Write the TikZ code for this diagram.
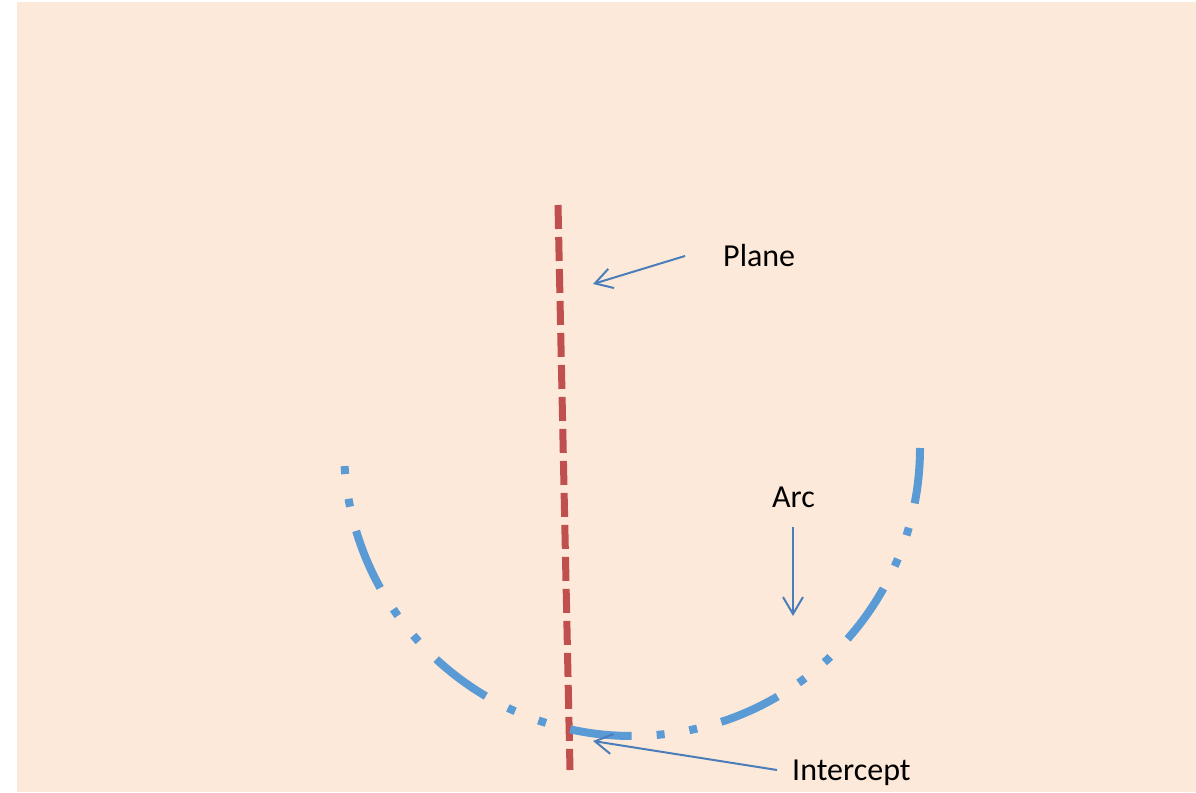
\documentclass[tikz,border=0pt]{standalone}
\usepackage{fontspec}
\setmainfont{Carlito}
\usetikzlibrary{arrows.meta}
\definecolor{peach}{HTML}{FDE9D9}
\definecolor{planered}{HTML}{C0504D}
\definecolor{arcblue}{HTML}{5B9BD5}
\definecolor{arrowblue}{HTML}{4A7EBB}
\tikzset{
  lbl/.style={font=\fontsize{32}{38}\selectfont, text=black, inner sep=0pt, anchor=base west},
  pointer/.style={draw=arrowblue, line width=2pt, -{Straight Barb[length=17pt,width=20pt,line width=2pt]}},
  planeline/.style={draw=planered, line width=7pt, dash pattern=on 24pt off 8pt},
  arcline/.style={draw=arcblue, line width=8pt, dash pattern=on 8pt off 25pt on 8pt off 25pt on 62pt off 25pt}
}
\begin{document}
\begin{tikzpicture}[x=1pt,y=1pt]
\useasboundingbox (0,0) rectangle (1196,792);
\fill[white] (0,0) rectangle (1196,792);
\fill[peach] (17,0) rectangle (1196,790);
% plane
\coordinate (ptop) at (558,587);
\coordinate (pbot) at (570,22);
\draw[planeline] (ptop) -- (pbot);
% arc
\coordinate (c) at (632,344);
\draw[arcline] (c) ++(183.6:288) arc[start angle=183.6,end angle=360,radius=288];
% labels
\node[lbl] (plane) at (723,525) {Plane};
\node[lbl] (arc) at (772,284) {Arc};
\node[lbl] (intercept) at (792,12) {Intercept};
% pointers
\coordinate (pA) at (685,536);
\coordinate (pB) at (593,508);
\draw[pointer] (pA) -- (pB);
\coordinate (aA) at (793,265);
\coordinate (aB) at (793,176);
\draw[pointer] (aA) -- (aB);
\coordinate (iA) at (777,22);
\coordinate (iB) at (593,51);
\draw[pointer] (iA) -- (iB);
\end{tikzpicture}
\end{document}
